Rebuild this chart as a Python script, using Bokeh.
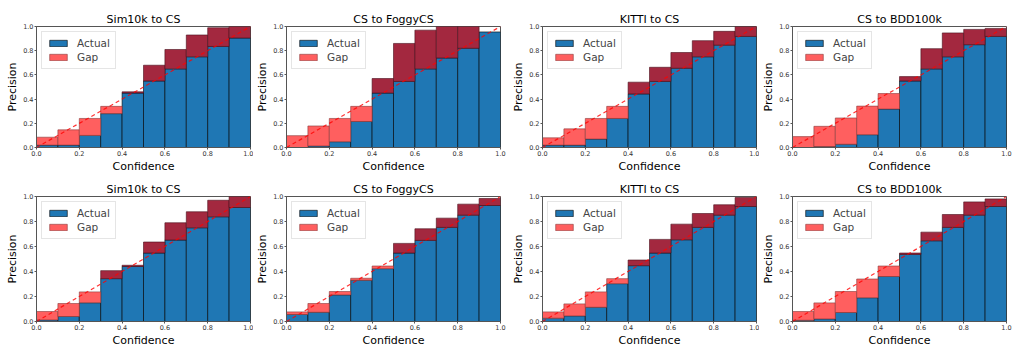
from bokeh.plotting import figure
from bokeh.layouts import gridplot
from bokeh.models import (ColumnDataSource, Slope, FixedTicker, Range1d,
                          Legend, LegendItem, NumeralTickFormatter)
from bokeh.embed import file_html
from bokeh.resources import INLINE

# ---------------- data ----------------
bin_centers = [0.05, 0.15, 0.25, 0.35, 0.45, 0.55, 0.65, 0.75, 0.85, 0.95]
bin_width = 0.1
tick_values = [0.0, 0.2, 0.4, 0.6, 0.8, 1.0]

titles = ["Sim10k to CS", "CS to FoggyCS", "KITTI to CS", "CS to BDD100k"]

# row 1
sim10k_cs_1_actual = [0.02, 0.02, 0.10, 0.28, 0.45, 0.55, 0.65, 0.75, 0.835, 0.905]
sim10k_cs_1_top    = [0.085, 0.146, 0.24, 0.34, 0.46, 0.68, 0.81, 0.93, 0.99, 1.0]
sim10k_cs_1_cross = 4
foggy_1_actual = [0.0, 0.013, 0.048, 0.215, 0.45, 0.546, 0.65, 0.74, 0.82, 0.955]
foggy_1_top    = [0.098, 0.178, 0.24, 0.34, 0.57, 0.86, 0.97, 1.0, 1.0, 0.955]
foggy_1_cross = 4
kitti_1_actual = [0.02, 0.02, 0.07, 0.24, 0.443, 0.546, 0.655, 0.75, 0.846, 0.918]
kitti_1_top    = [0.08, 0.154, 0.24, 0.34, 0.54, 0.663, 0.785, 0.883, 0.96, 1.0]
kitti_1_cross = 4
bdd_1_actual = [0.0, 0.008, 0.027, 0.106, 0.318, 0.55, 0.65, 0.75, 0.85, 0.918]
bdd_1_top    = [0.09, 0.175, 0.244, 0.342, 0.446, 0.586, 0.817, 0.947, 0.976, 0.984]
bdd_1_cross = 5

# row 2
sim10k_cs_2_actual = [0.013, 0.04, 0.15, 0.343, 0.44, 0.548, 0.652, 0.75, 0.838, 0.912]
sim10k_cs_2_top    = [0.08, 0.144, 0.237, 0.407, 0.45, 0.636, 0.79, 0.878, 0.97, 1.0]
sim10k_cs_2_cross = 3
foggy_2_actual = [0.056, 0.074, 0.213, 0.33, 0.423, 0.548, 0.649, 0.753, 0.851, 0.928]
foggy_2_top    = [0.077, 0.144, 0.24, 0.346, 0.444, 0.625, 0.742, 0.827, 0.939, 0.984]
foggy_2_cross = 5
kitti_2_actual = [0.027, 0.045, 0.114, 0.303, 0.447, 0.548, 0.654, 0.753, 0.851, 0.92]
kitti_2_top    = [0.077, 0.141, 0.237, 0.343, 0.492, 0.657, 0.779, 0.864, 0.934, 0.992]
kitti_2_cross = 4
bdd_2_actual = [0.01, 0.021, 0.072, 0.19, 0.36, 0.537, 0.646, 0.753, 0.851, 0.92]
bdd_2_top    = [0.08, 0.149, 0.24, 0.34, 0.444, 0.548, 0.715, 0.856, 0.957, 0.981]
bdd_2_cross = 5

panels = [
    [(titles[0], sim10k_cs_1_actual, sim10k_cs_1_top, sim10k_cs_1_cross),
     (titles[1], foggy_1_actual, foggy_1_top, foggy_1_cross),
     (titles[2], kitti_1_actual, kitti_1_top, kitti_1_cross),
     (titles[3], bdd_1_actual, bdd_1_top, bdd_1_cross)],
    [(titles[0], sim10k_cs_2_actual, sim10k_cs_2_top, sim10k_cs_2_cross),
     (titles[1], foggy_2_actual, foggy_2_top, foggy_2_cross),
     (titles[2], kitti_2_actual, kitti_2_top, kitti_2_cross),
     (titles[3], bdd_2_actual, bdd_2_top, bdd_2_cross)],
]

# ---------------- style ----------------
FONT = "DejaVu Sans"
BLUE = "#1f77b4"
LIGHT = "#ff5f5f"
DARK = "#a3283f"
FRAME = "#555555"

FRAME_W = 214
left_borders = [36, 33, 33, 33]
right_borders = [3, 9, 3, 18]
row_frame_h = [121, 125]
row_top = [26, 21]
row_bottom = [27, 28]


def make_panel(r, c, title, actual, top, cross):
    p = figure(frame_width=FRAME_W, frame_height=row_frame_h[r],
               x_range=Range1d(0, 1), y_range=Range1d(0, 1),
               output_backend="svg", toolbar_location=None,
               min_border_left=left_borders[c], min_border_right=right_borders[c],
               min_border_top=row_top[r], min_border_bottom=row_bottom[r],
               background_fill_color="white", border_fill_color="white",
               title=title)
    p.title.align = "center"
    p.title.text_font = FONT
    p.title.text_font_size = "11px"
    p.title.text_font_style = "normal"
    p.title.text_color = "black"
    p.title.standoff = 2
    p.title.offset = 0

    p.xgrid.visible = False
    p.ygrid.visible = False
    p.outline_line_color = FRAME
    p.outline_line_width = 1
    p.xaxis.axis_label = "Confidence"
    p.yaxis.axis_label = "Precision"
    for ax in (p.xaxis[0], p.yaxis[0]):
        ax.ticker = FixedTicker(ticks=tick_values)
        ax.formatter = NumeralTickFormatter(format="0.0")
        ax.major_label_text_font = FONT
        ax.major_label_text_font_size = "6.5px"
        ax.major_label_text_color = "#333333"
        ax.axis_line_color = FRAME
        ax.major_tick_line_color = FRAME
        ax.major_tick_out = 2
        ax.major_tick_in = 0
        ax.minor_tick_line_color = None
        ax.major_label_standoff = 1
        ax.axis_label_text_font = FONT
        ax.axis_label_text_font_size = "11px"
        ax.axis_label_text_font_style = "normal"
        ax.axis_label_text_color = "black"
        ax.axis_label_standoff = 1

    src = ColumnDataSource(dict(x=bin_centers, top=actual))
    r_act = p.vbar(x="x", top="top", bottom=0, width=bin_width, source=src,
                   fill_color=BLUE, line_color="black", line_alpha=0.6, line_width=1)

    lx, lb, lt, dx, db, dt = [], [], [], [], [], []
    for i, (xc, a, t) in enumerate(zip(bin_centers, actual, top)):
        if t - a <= 0:
            continue
        if i >= cross:
            dx.append(xc); db.append(a); dt.append(t)
        else:
            lx.append(xc); lb.append(a); lt.append(t)
    r_light = p.vbar(x="x", bottom="b", top="t", width=bin_width,
                     source=ColumnDataSource(dict(x=lx, b=lb, t=lt)),
                     fill_color=LIGHT, line_color="#8a3b3b", line_alpha=0.6, line_width=1)
    p.vbar(x="x", bottom="b", top="t", width=bin_width,
           source=ColumnDataSource(dict(x=dx, b=db, t=dt)),
           fill_color=DARK, line_color="#4a0f1c", line_alpha=0.6, line_width=1)

    p.add_layout(Slope(gradient=1, y_intercept=0, line_color="red", line_alpha=0.8,
                       line_dash="4 3", line_width=1.2))

    legend = Legend(items=[LegendItem(label="Actual", renderers=[r_act]),
                           LegendItem(label="Gap", renderers=[r_light])],
                    location="top_left", margin=5, padding=5, spacing=2,
                    label_text_font=FONT, label_text_font_size="10.5px",
                    label_height=12, glyph_height=8, glyph_width=22,
                    label_standoff=8, border_line_color="#cccccc",
                    background_fill_alpha=0.85)
    p.add_layout(legend, "center")
    return p


rows = []
for r, row in enumerate(panels):
    rows.append([make_panel(r, c, *spec) for c, spec in enumerate(row)])

layout = gridplot(rows, toolbar_location=None)

with open("out.html", "w") as f:
    f.write(file_html(layout, INLINE))
